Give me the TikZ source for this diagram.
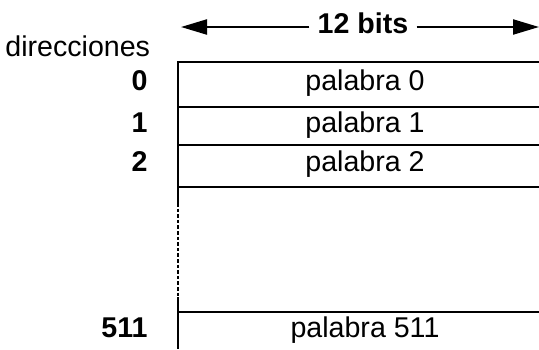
\documentclass[tikz,border=0pt]{standalone}
\usepackage{fontspec}
\setmainfont{Liberation Sans}
\usetikzlibrary{arrows.meta}

\newcommand{\wordfont}{\fontsize{14.3}{17}\selectfont}

\tikzset{
  word/.style={anchor=base, inner sep=0pt},
  addr/.style={anchor=base east, inner sep=0pt, font=\wordfont\bfseries},
  cell/.style={line width=1.1pt},
  gap/.style={line width=1.1pt, dash pattern=on 1.8pt off 1pt},
  span/.style={line width=1.1pt, -{Triangle[length=13pt,width=7.5pt]}}
}

\begin{document}
\begin{tikzpicture}[x=0.5pt, y=-0.5pt, font=\wordfont]
\useasboundingbox (0,0) rectangle (539,349);

\coordinate (Lend) at (181,27);
\coordinate (Rend) at (539,27);
\node[word, font=\wordfont\bfseries] (Bits) at (363,33) {12 bits};

\node[anchor=base west, inner sep=0pt] (Dir) at (5,56) {direcciones};

\node[addr] (A0) at (148,90) {0};
\node[addr] (A1) at (148,132) {1};
\node[addr] (A2) at (148,171) {2};
\node[addr] (A511) at (148,337) {511};

\node[word] (W0) at (365,90) {palabra 0};
\node[word] (W1) at (365,132) {palabra 1};
\node[word] (W2) at (365,171) {palabra 2};
\node[word] (W511) at (365,337) {palabra 511};

\draw[span] ([xshift=-4pt]Bits.west |- Lend) -- (Lend);
\draw[span] ([xshift=4pt]Bits.east |- Rend) -- (Rend);

\draw[cell] (539,62) -- (178,62) -- (178,203);
\draw[gap] (178,203) -- (178,297);
\draw[cell] (178,297) -- (178,349);
\draw[cell] (178,107) -- (539,107);
\draw[cell] (178,145) -- (539,145);
\draw[cell] (178,187) -- (539,187);
\draw[cell] (178,312) -- (539,312);
\end{tikzpicture}
\end{document}
